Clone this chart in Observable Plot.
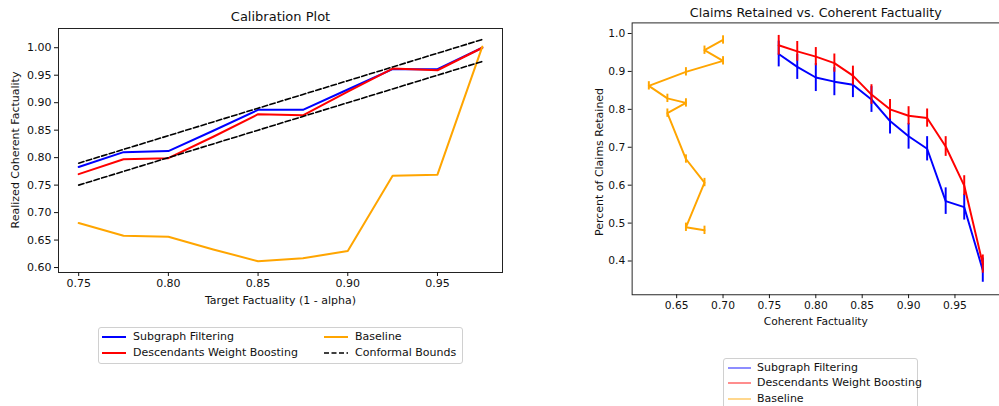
<!DOCTYPE html>
<html>
<head>
<meta charset="utf-8">
<script src="https://cdn.jsdelivr.net/npm/d3@7"></script>
<script src="https://cdn.jsdelivr.net/npm/@observablehq/plot@0.6"></script>
<style>
  body { margin: 0; background: #fff; }
  #wrap { position: relative; width: 999px; height: 406px; overflow: hidden; background: #fff; font-family: "DejaVu Sans", sans-serif; color: #111; }
  .abs { position: absolute; }
  .legend { position: absolute; background: #fff; border: 1px solid #d0d0d0; border-radius: 3px; box-sizing: border-box; }
  .entry { position: absolute; font-size: 11px; line-height: 13px; white-space: nowrap; }
  .sw { position: absolute; }
  .ylab { position: absolute; font-size: 11px; line-height: 13px; white-space: nowrap; transform: translate(-50%, -50%) rotate(-90deg); }
</style>
</head>
<body>
<div id="wrap">
  <div id="left" class="abs" style="left:0;top:0"></div>
  <div id="right" class="abs" style="left:580px;top:0"></div>
  <div id="ylabL" class="ylab" style="left:15px;top:150px"></div>
  <div id="ylabR" class="ylab" style="left:599px;top:162px"></div>
  <div id="legL" class="legend" style="left:98px;top:327px;width:365px;height:37px"></div>
  <div id="legR" class="legend" style="left:723px;top:358px;width:195px;height:60px"></div>
</div>
<script>
// ---- Calibration plot data ----
const calibTargets   = [0.75, 0.775, 0.80, 0.825, 0.85, 0.875, 0.90, 0.925, 0.95, 0.975];
const subgraphCalib  = [0.783, 0.810, 0.812, 0.849, 0.887, 0.887, 0.924, 0.961, 0.961, 1.000];
const boostingCalib  = [0.770, 0.797, 0.799, 0.838, 0.879, 0.877, 0.920, 0.962, 0.959, 1.000];
const baselineCalib  = [0.681, 0.658, 0.656, 0.633, 0.6115, 0.617, 0.630, 0.767, 0.769, 1.002];
const lowerBound     = [0.75, 0.775, 0.80, 0.825, 0.85, 0.875, 0.90, 0.925, 0.95, 0.975];
const upperBound     = [0.79, 0.815, 0.84, 0.865, 0.89, 0.915, 0.94, 0.965, 0.99, 1.015];
const calibXTicks    = [0.75, 0.80, 0.85, 0.90, 0.95];
const calibYTicks    = [0.60, 0.65, 0.70, 0.75, 0.80, 0.85, 0.90, 0.95, 1.00];

// ---- Claims retained data ----
const factualityLevels = [0.76, 0.78, 0.80, 0.82, 0.84, 0.86, 0.88, 0.90, 0.92, 0.94, 0.96, 0.98];
const subgraphRetained = [0.946, 0.912, 0.884, 0.873, 0.865, 0.826, 0.769, 0.729, 0.696, 0.558, 0.542, 0.376];
const subgraphErr      = [0.034, 0.033, 0.037, 0.037, 0.034, 0.034, 0.034, 0.034, 0.032, 0.035, 0.034, 0.032];
const boostingRetained = [0.969, 0.953, 0.939, 0.922, 0.889, 0.839, 0.800, 0.783, 0.777, 0.702, 0.599, 0.392];
const boostingErr      = [0.026, 0.026, 0.024, 0.024, 0.025, 0.026, 0.026, 0.024, 0.024, 0.026, 0.026, 0.024];
const baselineFact     = [0.70, 0.68, 0.70, 0.66, 0.62, 0.64, 0.66, 0.64, 0.66, 0.68, 0.66, 0.68];
const baselineRetained = [0.983, 0.956, 0.928, 0.899, 0.862, 0.829, 0.817, 0.790, 0.669, 0.607, 0.489, 0.481];
const baselineErr      = [0.011, 0.011, 0.011, 0.011, 0.011, 0.011, 0.011, 0.011, 0.011, 0.011, 0.011, 0.011];
const retXTicks = [0.65, 0.70, 0.75, 0.80, 0.85, 0.90, 0.95];
const retYTicks = [0.4, 0.5, 0.6, 0.7, 0.8, 0.9, 1.0];

const FONT = "DejaVu Sans";
const BLUE = "#0000ff", RED = "#ff0000", ORANGE = "#ffa500";

const calib = (ys) => calibTargets.map((x, i) => ({x, y: ys[i]}));
const ret = (xs, ys, es) => xs.map((x, i) => ({x, y: ys[i], y1: ys[i] - es[i], y2: ys[i] + es[i]}));

const left = Plot.plot({
  width: 520, height: 310,
  marginLeft: 58, marginRight: 18, marginTop: 28, marginBottom: 38,
  style: {fontFamily: FONT, fontSize: "11px", background: "transparent", color: "#111"},
  x: {domain: [0.73875, 0.98625]},
  y: {domain: [0.591, 1.035]},
  marks: [
    Plot.frame({stroke: "#222", strokeWidth: 1}),
    Plot.axisX({ticks: calibXTicks, tickFormat: d3.format(".2f"), tickSize: 4, tickPadding: 3, label: null, fontSize: 11}),
    Plot.axisY({ticks: calibYTicks, tickFormat: d3.format(".2f"), tickSize: 4, tickPadding: 3, label: null, fontSize: 11}),
    Plot.line(calib(subgraphCalib), {x: "x", y: "y", stroke: BLUE, strokeWidth: 2}),
    Plot.line(calib(boostingCalib), {x: "x", y: "y", stroke: RED, strokeWidth: 2}),
    Plot.line(calib(baselineCalib), {x: "x", y: "y", stroke: ORANGE, strokeWidth: 2}),
    Plot.line(calib(lowerBound), {x: "x", y: "y", stroke: "#000", strokeWidth: 1.6, strokeDasharray: "5.5,2.5"}),
    Plot.line(calib(upperBound), {x: "x", y: "y", stroke: "#000", strokeWidth: 1.6, strokeDasharray: "5.5,2.5"}),
    Plot.text(["Calibration Plot"], {frameAnchor: "top", dy: -12, lineAnchor: "middle", fontSize: 13, fill: "#111"}),
    Plot.text(["Target Factuality (1 - alpha)"], {frameAnchor: "bottom", dy: 28, lineAnchor: "middle", fontSize: 11, fill: "#111"})
  ]
});
document.getElementById("left").appendChild(left);

const right = Plot.plot({
  width: 430, height: 342,
  marginLeft: 53, marginRight: 0, marginTop: 23, marginBottom: 40,
  style: {fontFamily: FONT, fontSize: "11px", background: "transparent", color: "#111"},
  x: {domain: [0.602, 0.998]},
  y: {domain: [0.311, 1.028]},
  marks: [
    Plot.frame({stroke: "#222", strokeWidth: 1}),
    Plot.axisX({ticks: retXTicks, tickFormat: d3.format(".2f"), tickSize: 4, tickPadding: 3, label: null, fontSize: 11}),
    Plot.axisY({ticks: retYTicks, tickFormat: d3.format(".1f"), tickSize: 4, tickPadding: 3, label: null, fontSize: 11}),
    Plot.line(ret(factualityLevels, subgraphRetained, subgraphErr), {x: "x", y: "y", stroke: BLUE, strokeWidth: 2}),
    Plot.ruleX(ret(factualityLevels, subgraphRetained, subgraphErr), {x: "x", y1: "y1", y2: "y2", stroke: BLUE, strokeWidth: 2}),
    Plot.line(ret(factualityLevels, boostingRetained, boostingErr), {x: "x", y: "y", stroke: RED, strokeWidth: 2}),
    Plot.ruleX(ret(factualityLevels, boostingRetained, boostingErr), {x: "x", y1: "y1", y2: "y2", stroke: RED, strokeWidth: 2}),
    Plot.line(ret(baselineFact, baselineRetained, baselineErr), {x: "x", y: "y", stroke: ORANGE, strokeWidth: 2}),
    Plot.ruleX(ret(baselineFact, baselineRetained, baselineErr), {x: "x", y1: "y1", y2: "y2", stroke: ORANGE, strokeWidth: 2}),
    Plot.text(["Claims Retained vs. Coherent Factuality"], {frameAnchor: "top", dy: -10, lineAnchor: "middle", fontSize: 13, fill: "#111"}),
    Plot.text(["Coherent Factuality"], {frameAnchor: "bottom", dy: 27, lineAnchor: "middle", fontSize: 11, fill: "#111"})
  ]
});
document.getElementById("right").appendChild(right);

document.getElementById("ylabL").textContent = "Realized Coherent Factuality";
document.getElementById("ylabR").textContent = "Percent of Claims Retained";

// ---- Legends ----
function addEntry(box, label, color, dash, x, y, sx, sw, width, opacity) {
  const s = document.createElementNS("http://www.w3.org/2000/svg", "svg");
  s.setAttribute("class", "sw");
  s.setAttribute("width", sw); s.setAttribute("height", 6);
  s.style.left = sx + "px"; s.style.top = (y - 3) + "px";
  const l = document.createElementNS("http://www.w3.org/2000/svg", "line");
  l.setAttribute("x1", 0); l.setAttribute("x2", sw); l.setAttribute("y1", 3); l.setAttribute("y2", 3);
  l.setAttribute("stroke", color); l.setAttribute("stroke-width", width);
  l.setAttribute("stroke-opacity", opacity);
  if (dash) l.setAttribute("stroke-dasharray", dash);
  s.appendChild(l);
  box.appendChild(s);
  const t = document.createElement("div");
  t.className = "entry"; t.textContent = label;
  t.style.left = x + "px"; t.style.top = (y - 7) + "px";
  box.appendChild(t);
}
const legL = document.getElementById("legL");
const legLabels = ["Subgraph Filtering", "Descendants Weight Boosting", "Baseline", "Conformal Bounds"];
addEntry(legL, legLabels[0], BLUE, null, 34, 8.5, 3, 24, 2, 1);
addEntry(legL, legLabels[1], RED, null, 34, 25, 3, 24, 2, 1);
addEntry(legL, legLabels[2], ORANGE, null, 256, 8.5, 225, 24, 2, 1);
addEntry(legL, legLabels[3], "#000", "5,2.5", 256, 25, 225, 24, 1.6, 1);

const legR = document.getElementById("legR");
addEntry(legR, legLabels[0], BLUE, null, 33, 8.5, 4, 23, 1.2, 0.75);
addEntry(legR, legLabels[1], RED, null, 33, 24, 4, 23, 1.2, 0.75);
addEntry(legR, legLabels[2], ORANGE, null, 33, 40, 4, 23, 1.2, 0.75);
</script>
</body>
</html>
